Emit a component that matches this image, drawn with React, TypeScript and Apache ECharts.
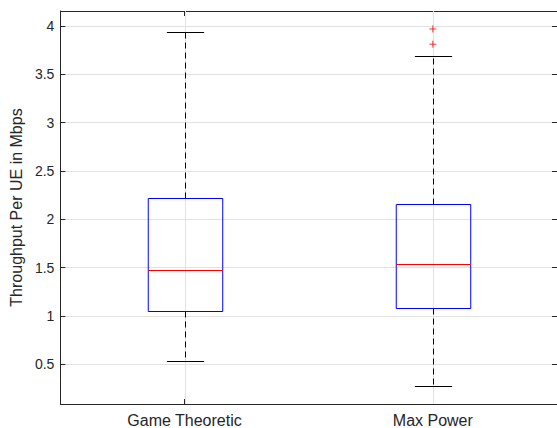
import React, { useEffect, useRef } from "react";
import * as echarts from "echarts";

const categories = ["Game Theoretic", "Max Power"];
const lowerWhisker = [0.53, 0.28];
const q1 = [1.054, 1.088];
const median = [1.472, 1.54];
const q3 = [2.225, 2.16];
const upperWhisker = [3.942, 3.692];
const outlierCategory = [1, 1];
const outlierValues = [3.969, 3.812];
const yTicks = [0.5, 1, 1.5, 2, 2.5, 3, 3.5, 4];
const yMin = 0.09;
const yMax = 4.155;

const AXIS = "#262626";
const GRID = "#e2e2e2";
const FONT = "'Liberation Sans', Arial, Helvetica, sans-serif";

export default function App() {
  const ref = useRef<HTMLDivElement>(null);
  useEffect(() => {
    if (!ref.current) return;
    const chart = echarts.init(ref.current, undefined, { renderer: "svg" });
    const boxData = categories.map((_, i) => [i, lowerWhisker[i], q1[i], median[i], q3[i], upperWhisker[i]]);
    const outlierData = outlierValues.map((v, i) => [outlierCategory[i], v]);
    const px = (v: number) => Math.round(v) + 0.5;
    chart.setOption({
      animation: false,
      textStyle: { fontFamily: FONT },
      grid: { left: 58, right: -1, top: 11, bottom: 22, containLabel: false },
      xAxis: [
        {
          type: "category",
          data: categories,
          boundaryGap: true,
          axisLine: { show: true, lineStyle: { color: AXIS, width: 1 } },
          axisTick: { show: true, alignWithLabel: true, inside: true, length: 5, lineStyle: { color: AXIS } },
          axisLabel: { color: AXIS, fontSize: 16, margin: 8, fontFamily: FONT },
          splitLine: { show: false },
        },
        {
          type: "category",
          data: categories,
          position: "top",
          boundaryGap: true,
          axisLine: { show: true, lineStyle: { color: AXIS, width: 1 } },
          axisTick: { show: true, alignWithLabel: true, inside: true, length: 5, lineStyle: { color: AXIS } },
          axisLabel: { show: false },
          splitLine: { show: false },
        },
      ],
      yAxis: [
        {
          type: "value",
          min: yMin,
          max: yMax,
          name: "Throughput Per UE in Mbps",
          nameLocation: "middle",
          nameGap: 36,
          nameTextStyle: { color: AXIS, fontSize: 16, fontFamily: FONT },
          axisLine: { show: true, lineStyle: { color: AXIS, width: 1 } },
          axisTick: { show: true, inside: true, length: 5, customValues: yTicks, lineStyle: { color: AXIS } },
          axisLabel: {
            customValues: yTicks,
            color: AXIS,
            fontSize: 14,
            margin: 6,
            fontFamily: FONT,
            formatter: (v: number) => String(v),
          },
          splitLine: { show: true, lineStyle: { color: GRID, width: 1 } },
        },
        {
          type: "value",
          min: yMin,
          max: yMax,
          position: "right",
          axisLine: { show: true, lineStyle: { color: AXIS, width: 1 } },
          axisTick: { show: true, inside: true, length: 5, customValues: yTicks, lineStyle: { color: AXIS } },
          axisLabel: { show: false, customValues: yTicks },
          splitLine: { show: false },
        },
      ],
      series: [
        {
          type: "custom",
          xAxisIndex: 0,
          yAxisIndex: 0,
          data: boxData,
          encode: { x: 0, y: [1, 2, 3, 4, 5] },
          renderItem: (params: any, api: any) => {
            const idx = api.value(0);
            const lo = api.coord([idx, api.value(1)]);
            const b1 = api.coord([idx, api.value(2)]);
            const md = api.coord([idx, api.value(3)]);
            const b3 = api.coord([idx, api.value(4)]);
            const hi = api.coord([idx, api.value(5)]);
            const band = api.size([1, 0])[0];
            const boxW = band * 0.3;
            const capW = band * 0.15;
            const cx = px(lo[0]);
            const cs = params.coordSys;
            return {
              type: "group",
              children: [
                {
                  type: "line",
                  name: "vgrid",
                  z2: 0,
                  shape: { x1: cx, y1: cs.y, x2: cx, y2: cs.y + cs.height },
                  style: { stroke: GRID, lineWidth: 1 },
                },
                {
                  type: "line",
                  name: "whiskerUp",
                  z2: 1,
                  shape: { x1: cx, y1: px(b3[1]), x2: cx, y2: px(hi[1]) },
                  style: { stroke: "#000000", lineWidth: 1, lineDash: [6, 4] },
                },
                {
                  type: "line",
                  name: "whiskerDown",
                  z2: 1,
                  shape: { x1: cx, y1: px(b1[1]), x2: cx, y2: px(lo[1]) },
                  style: { stroke: "#000000", lineWidth: 1, lineDash: [6, 4] },
                },
                {
                  type: "line",
                  name: "capUp",
                  z2: 2,
                  shape: { x1: cx - capW / 2, y1: px(hi[1]), x2: cx + capW / 2, y2: px(hi[1]) },
                  style: { stroke: "#000000", lineWidth: 1 },
                },
                {
                  type: "line",
                  name: "capDown",
                  z2: 2,
                  shape: { x1: cx - capW / 2, y1: px(lo[1]), x2: cx + capW / 2, y2: px(lo[1]) },
                  style: { stroke: "#000000", lineWidth: 1 },
                },
                {
                  type: "rect",
                  name: "box",
                  z2: 3,
                  shape: { x: cx - boxW / 2, y: px(b3[1]), width: boxW, height: px(b1[1]) - px(b3[1]) },
                  style: { fill: "none", stroke: "#0000ff", lineWidth: 1 },
                },
                {
                  type: "line",
                  name: "median",
                  z2: 4,
                  shape: { x1: cx - boxW / 2, y1: px(md[1]), x2: cx + boxW / 2, y2: px(md[1]) },
                  style: { stroke: "#ff0000", lineWidth: 1, lineDash: null },
                },
              ],
            };
          },
          z: 3,
        },
        {
          type: "scatter",
          xAxisIndex: 0,
          yAxisIndex: 0,
          data: outlierData,
          symbol: "path://M5,0L5,10M0,5L10,5",
          symbolSize: 7,
          itemStyle: { color: "none", borderColor: "#ff0000", borderWidth: 1 },
          z: 4,
        },
      ],
    });
    return () => chart.dispose();
  }, []);
  return (
    <div
      ref={ref}
      style={{ position: "fixed", left: 0, top: 0, width: 557, height: 428, background: "#fff" }}
    />
  );
}
